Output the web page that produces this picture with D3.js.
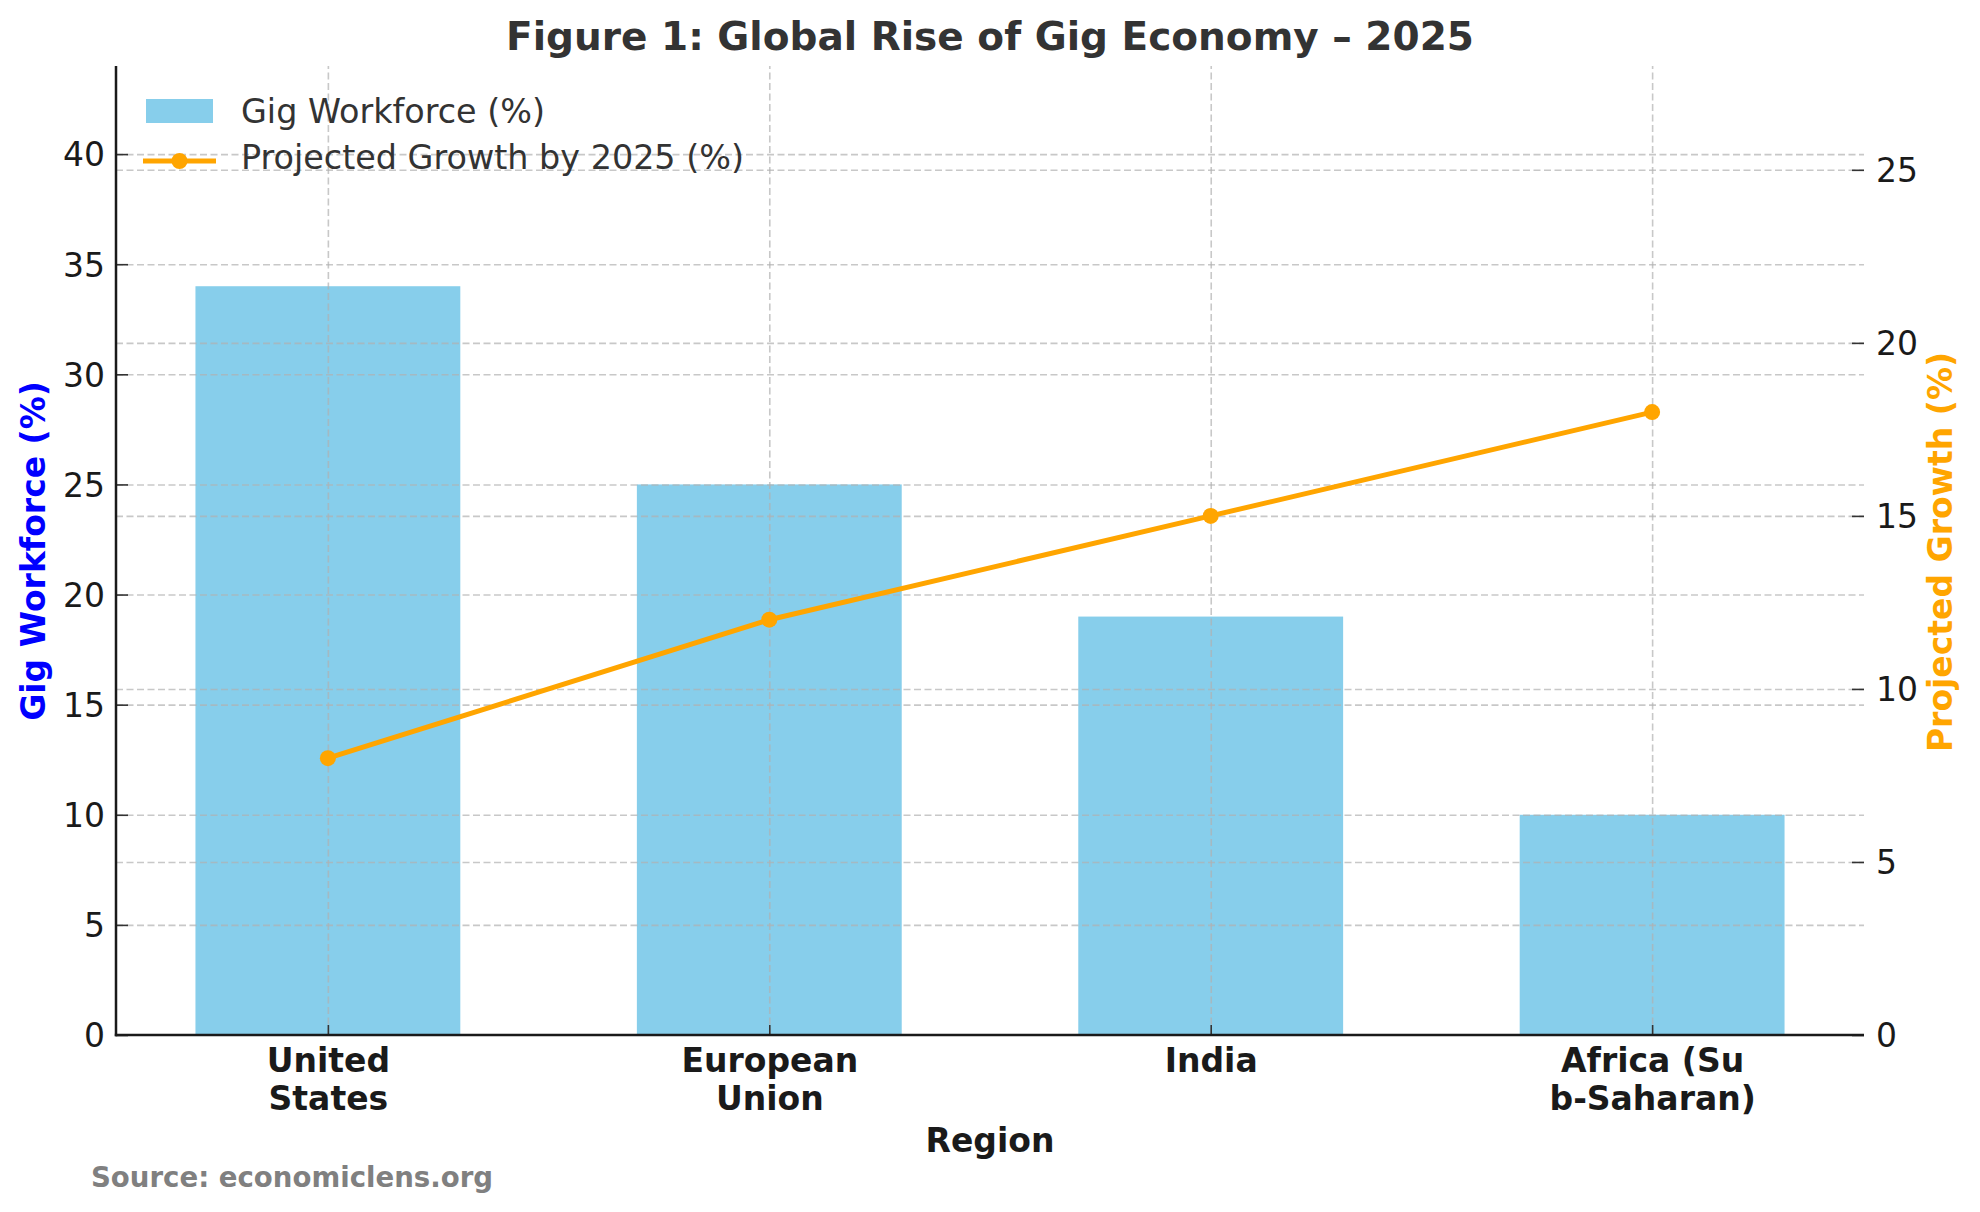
<!DOCTYPE html>
<html lang="en">
<head>
  <meta charset="UTF-8">
  <title>Figure 1: Global Rise of Gig Economy – 2025</title>
  <script src="https://d3js.org/d3.v7.min.js"></script>
  <style>
    body { margin: 0; background: #fff; }
    svg { font-family: "DejaVu Sans", sans-serif; display: block; }
    .tick text { font-family: "DejaVu Sans", sans-serif; font-size: 33px; fill: #1a1a1a; }
    .tick line { stroke: #333; stroke-width: 1.6; }
    .grid .tick line { stroke: #b0b0b0; stroke-opacity: 0.7; stroke-width: 1.6; stroke-dasharray: 7,3.5; }
    .grid path { display: none; }
  </style>
</head>
<body>
  <svg width="1980" height="1212"></svg>

  <script>
    // data
    const regions = ['United\nStates', 'European\nUnion', 'India', 'Africa (Su\nb-Saharan)'];
    const gigWorkforce = [34, 25, 19, 10];
    const projectedGrowth = [8, 12, 15, 18];
    const leftTicks = [0, 5, 10, 15, 20, 25, 30, 35, 40];
    const rightTicks = [0, 5, 10, 15, 20, 25];

    const svg = d3.select('svg');
    const plotL = 116, plotR = 1864, plotT = 66, plotB = 1035;

    const x = d3.scaleLinear().domain([-0.48, regions.length - 0.52]).range([plotL, plotR]);
    const yL = d3.scaleLinear().domain([0, 44]).range([plotB, plotT]);
    const yR = d3.scaleLinear().domain([0, 28]).range([plotB, plotT]);
    const barW = x(0.6) - x(0);

    // bars
    svg.append('g').selectAll('rect')
      .data(gigWorkforce)
      .enter().append('rect')
      .attr('x', (d, i) => x(i) - barW / 2)
      .attr('y', d => yL(d))
      .attr('width', barW)
      .attr('height', d => yL(0) - yL(d))
      .attr('fill', '#87CEEB');

    // grid lines (drawn over the bars, like the original)
    svg.append('g').attr('class', 'grid')
      .attr('transform', `translate(0,${plotB})`)
      .call(d3.axisBottom(x).tickValues(d3.range(regions.length)).tickSize(-(plotB - plotT)).tickFormat(''));
    svg.append('g').attr('class', 'grid')
      .attr('transform', `translate(${plotL},0)`)
      .call(d3.axisLeft(yL).tickValues(leftTicks.slice(1)).tickSize(-(plotR - plotL)).tickFormat(''));
    svg.append('g').attr('class', 'grid')
      .attr('transform', `translate(${plotL},0)`)
      .call(d3.axisLeft(yR).tickValues(rightTicks.slice(1)).tickSize(-(plotR - plotL)).tickFormat(''));

    // line + markers
    const line = d3.line().x((d, i) => x(i)).y(d => yR(d));
    svg.append('path')
      .datum(projectedGrowth)
      .attr('d', line)
      .attr('fill', 'none')
      .attr('stroke', '#FFA500')
      .attr('stroke-width', 5);
    svg.append('g').selectAll('circle')
      .data(projectedGrowth)
      .enter().append('circle')
      .attr('cx', (d, i) => x(i))
      .attr('cy', d => yR(d))
      .attr('r', 8)
      .attr('fill', '#FFA500');

    // left axis
    const axL = svg.append('g')
      .attr('transform', `translate(${plotL},0)`)
      .call(d3.axisLeft(yL).tickValues(leftTicks).tickSize(-12).tickSizeOuter(0).tickPadding(11));
    axL.select('.domain').remove();
    axL.selectAll('.tick text').attr('dy', '0.36em');

    // right axis
    const axR = svg.append('g')
      .attr('transform', `translate(${plotR},0)`)
      .call(d3.axisRight(yR).tickValues(rightTicks).tickSize(-12).tickSizeOuter(0).tickPadding(12));
    axR.select('.domain').remove();
    axR.selectAll('.tick text').attr('dy', '0.36em');

    // bottom axis with two-line bold labels
    const axB = svg.append('g')
      .attr('transform', `translate(0,${plotB})`)
      .call(d3.axisBottom(x).tickValues(d3.range(regions.length)).tickSize(-10).tickSizeOuter(0).tickFormat(''));
    axB.select('.domain').remove();
    axB.selectAll('.tick').each(function (d) {
      const t = d3.select(this).append('text')
        .attr('text-anchor', 'middle')
        .style('font-weight', 'bold')
        .attr('fill', '#1a1a1a');
      regions[d].split('\n').forEach((s, k) => {
        t.append('tspan').attr('x', 0).attr('y', 37 + k * 38).text(s);
      });
    });

    // spines
    svg.append('line').attr('x1', plotL).attr('x2', plotL).attr('y1', plotT).attr('y2', plotB + 1.2)
      .attr('stroke', '#1a1a1a').attr('stroke-width', 2.5);
    svg.append('line').attr('x1', plotL - 1.2).attr('x2', plotR).attr('y1', plotB).attr('y2', plotB)
      .attr('stroke', '#1a1a1a').attr('stroke-width', 2.5);

    // title, axis labels, source
    svg.append('text').attr('x', 990).attr('y', 50).attr('text-anchor', 'middle')
      .style('font-size', '39px').style('font-weight', 'bold').attr('fill', '#333')
      .text('Figure 1: Global Rise of Gig Economy – 2025');
    svg.append('text').attr('x', 990).attr('y', 1152).attr('text-anchor', 'middle')
      .style('font-size', '33px').style('font-weight', 'bold').attr('fill', '#1a1a1a')
      .text('Region');
    svg.append('text').attr('transform', 'translate(45,551) rotate(-90)').attr('text-anchor', 'middle')
      .style('font-size', '33px').style('font-weight', 'bold').attr('fill', '#0000FF')
      .text('Gig Workforce (%)');
    svg.append('text').attr('transform', 'translate(1952,552) rotate(-90)').attr('text-anchor', 'middle')
      .style('font-size', '33px').style('font-weight', 'bold').attr('fill', '#FFA500')
      .text('Projected Growth (%)');
    svg.append('text').attr('x', 91).attr('y', 1187)
      .style('font-size', '27.6px').style('font-weight', 'bold').attr('fill', '#808080')
      .text('Source: economiclens.org');

    // legend
    const lg = svg.append('g');
    lg.append('rect').attr('x', 146).attr('y', 99).attr('width', 67).attr('height', 24).attr('fill', '#87CEEB');
    lg.append('text').attr('x', 241).attr('y', 123).style('font-size', '33.4px').attr('fill', '#333')
      .text('Gig Workforce (%)');
    lg.append('line').attr('x1', 143).attr('x2', 216).attr('y1', 161).attr('y2', 161)
      .attr('stroke', '#FFA500').attr('stroke-width', 5);
    lg.append('circle').attr('cx', 179.5).attr('cy', 161).attr('r', 8).attr('fill', '#FFA500');
    lg.append('text').attr('x', 241).attr('y', 169).style('font-size', '33.4px').attr('fill', '#333')
      .text('Projected Growth by 2025 (%)');
  </script>
</body>
</html>
